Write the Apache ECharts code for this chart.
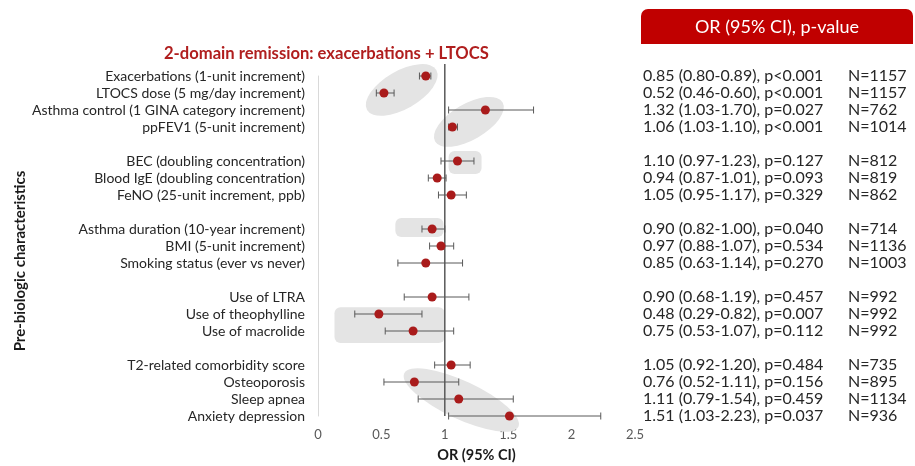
<!DOCTYPE html>
<html><head><meta charset="utf-8">
<script src="https://cdn.jsdelivr.net/npm/echarts@6/dist/echarts.min.js"></script>
<style>html,body{margin:0;padding:0;background:#fff}#c{width:915px;height:466px}</style>
</head><body><div id="c"></div>
<script>
const labels = ['Exacerbations (1-unit increment)', 'LTOCS dose (5 mg/day increment)', 'Asthma control (1 GINA category increment)', 'ppFEV1 (5-unit increment)', '', 'BEC (doubling concentration)', 'Blood IgE (doubling concentration)', 'FeNO (25-unit increment, ppb)', '', 'Asthma duration (10-year increment)', 'BMI (5-unit increment)', 'Smoking status (ever vs never)', '', 'Use of LTRA', 'Use of theophylline', 'Use of macrolide', '', 'T2-related comorbidity score', 'Osteoporosis', 'Sleep apnea', 'Anxiety depression'];
const orValues = [0.85, 0.52, 1.32, 1.06, null, 1.10, 0.94, 1.05, null, 0.90, 0.97, 0.85, null, 0.90, 0.48, 0.75, null, 1.05, 0.76, 1.11, 1.51];
const ciLow = [0.80, 0.46, 1.03, 1.03, null, 0.97, 0.87, 0.95, null, 0.82, 0.88, 0.63, null, 0.68, 0.29, 0.53, null, 0.92, 0.52, 0.79, 1.03];
const ciHigh = [0.89, 0.60, 1.70, 1.10, null, 1.23, 1.01, 1.17, null, 1.00, 1.07, 1.14, null, 1.19, 0.82, 1.07, null, 1.20, 1.11, 1.54, 2.23];
const pValues = ['<0.001', '<0.001', '=0.027', '<0.001', null, '=0.127', '=0.093', '=0.329', null, '=0.040', '=0.534', '=0.270', null, '=0.457', '=0.007', '=0.112', null, '=0.484', '=0.156', '=0.459', '=0.037'];
const nValues = [1157, 1157, 762, 1014, null, 812, 819, 862, null, 714, 1136, 1003, null, 992, 992, 992, null, 735, 895, 1134, 936];
const xTicks = [0, 0.5, 1, 1.5, 2, 2.5];
const refValue = 1;

// annotation highlight shapes (data-space centres / ranges)
const highlightEllipses = [
  {cx: 0.66, cy: 0.82, a: 40, b: 19, angle: 30},
  {cx: 1.19, cy: 2.7, a: 39, b: 18, angle: 30},
  {cx: 1.13, cy: 19.06, a: 63, b: 19, angle: -25}
];
const highlightRects = [
  {x1: 1.03, x2: 1.29, y1: 4.41, y2: 5.76},
  {x1: 0.61, x2: 0.99, y1: 8.35, y2: 9.47},
  {x1: 0.13, x2: 1.0, y1: 13.6, y2: 15.7}
];

const FONT = 'Lato';
const chart = echarts.init(document.getElementById('c'), null, {renderer: 'canvas'});

const pointData = [], barData = [];
orValues.forEach((v, i) => {
  if (v == null) return;
  pointData.push([v, i]);
  barData.push([i, ciLow[i], ciHigh[i]]);
});

const shapeData = highlightEllipses.map(e => [e.cx, e.cy, 0]).concat(highlightRects.map(r => [r.x1, r.y1, 1]));

function fmt(v) { return v.toFixed(2); }

const option = {
  backgroundColor: '#fff',
  animation: false,
  title: {
    text: '2-domain remission: exacerbations + LTOCS',
    left: 159, top: 40,
    textStyle: {fontFamily: FONT, fontSize: 16.6, fontWeight: 'bold', color: '#b01e1e'}
  },
  graphic: [
    {type: 'rect', shape: {x: 641, y: 9, width: 272, height: 35, r: [7, 7, 0, 0]}, style: {fill: '#c00000'}},
    {type: 'text', x: 777, y: 27, style: {text: 'OR (95% CI), p-value', fill: '#fff', font: '18px ' + FONT, textAlign: 'center', textVerticalAlign: 'middle'}},
    {type: 'text', x: 20, y: 261, rotation: Math.PI / 2, style: {text: 'Pre-biologic characteristics', fill: '#1a1a1a', font: 'bold 15px ' + FONT, textAlign: 'center', textVerticalAlign: 'middle'}}
  ],
  grid: {left: 318, right: 280, top: 76, bottom: 50, containLabel: false, outerBoundsMode: 'none'},
  xAxis: {
    type: 'value', min: xTicks[0], max: xTicks[xTicks.length - 1], interval: 0.5,
    axisLine: {show: false}, axisTick: {show: false}, splitLine: {show: false},
    axisLabel: {fontFamily: FONT, fontSize: 13, color: '#595959', margin: 12},
    name: 'OR (95% CI)', nameLocation: 'middle', nameGap: 32,
    nameTextStyle: {fontFamily: FONT, fontSize: 14.5, fontWeight: 'bold', color: '#1a1a1a'}
  },
  yAxis: [{
    type: 'value', min: 0, max: labels.length - 1, interval: 1, inverse: true,
    axisLine: {show: true, lineStyle: {color: '#d9d9d9', width: 1}},
    axisTick: {show: false}, splitLine: {show: false},
    axisLabel: {fontFamily: FONT, fontSize: 14, color: '#262626', margin: 13,
      formatter: v => labels[v] || ''}
  }, {
    type: 'value', min: 0, max: labels.length - 1, interval: 1, inverse: true, position: 'right',
    axisLine: {show: false}, axisTick: {show: false}, splitLine: {show: false},
    axisLabel: {margin: 8, align: 'left',
      formatter: v => orValues[v] == null ? '' :
        '{a|' + fmt(orValues[v]) + ' (' + fmt(ciLow[v]) + '-' + fmt(ciHigh[v]) + '), p' + pValues[v] + '}{b|N=' + nValues[v] + '}',
      rich: {
        a: {fontFamily: FONT, fontSize: 16, color: '#262626', width: 205},
        b: {fontFamily: FONT, fontSize: 16, color: '#262626'}
      }
    }
  }],
  series: [
    {
      type: 'custom', z: 1, silent: true,
      data: shapeData,
      renderItem: function (params, api) {
        const i = params.dataIndex;
        if (i < highlightEllipses.length) {
          const e = highlightEllipses[i];
          const p = api.coord([e.cx, e.cy]);
          return {type: 'circle', x: p[0], y: p[1], rotation: e.angle * Math.PI / 180, scaleX: e.a / e.b,
            shape: {cx: 0, cy: 0, r: e.b}, style: {fill: '#e4e4e4'}};
        }
        const r = highlightRects[i - highlightEllipses.length];
        const p1 = api.coord([r.x1, r.y1]), p2 = api.coord([r.x2, r.y2]);
        return {type: 'rect', shape: {x: p1[0], y: p1[1], width: p2[0] - p1[0], height: p2[1] - p1[1], r: 6},
          style: {fill: '#e4e4e4'}};
      }
    },
    {
      type: 'custom', z: 2, silent: true,
      data: [[refValue, 0]],
      renderItem: function (params, api) {
        const a = api.coord([api.value(0), -0.7]);
        const b = api.coord([api.value(0), labels.length - 1]);
        return {type: 'line', shape: {x1: a[0], y1: a[1], x2: b[0], y2: b[1]}, style: {stroke: '#595959', lineWidth: 1.5}};
      }
    },
    {
      type: 'custom', z: 3, silent: true,
      encode: {x: [1, 2], y: 0},
      data: barData,
      renderItem: function (params, api) {
        const row = api.value(0);
        const a = api.coord([api.value(1), row]);
        const b = api.coord([api.value(2), row]);
        const h = 3.5;
        const st = {stroke: '#595959', lineWidth: 1};
        return {type: 'group', children: [
          {type: 'line', shape: {x1: a[0], y1: a[1], x2: b[0], y2: b[1]}, style: st},
          {type: 'line', shape: {x1: a[0], y1: a[1] - h, x2: a[0], y2: a[1] + h}, style: st},
          {type: 'line', shape: {x1: b[0], y1: b[1] - h, x2: b[0], y2: b[1] + h}, style: st}
        ]};
      }
    },
    {
      type: 'scatter', z: 4, symbol: 'circle', symbolSize: 9,
      itemStyle: {color: '#a91b1b', opacity: 1},
      data: pointData
    }
  ]
};
chart.setOption(option);
</script>
</body></html>
